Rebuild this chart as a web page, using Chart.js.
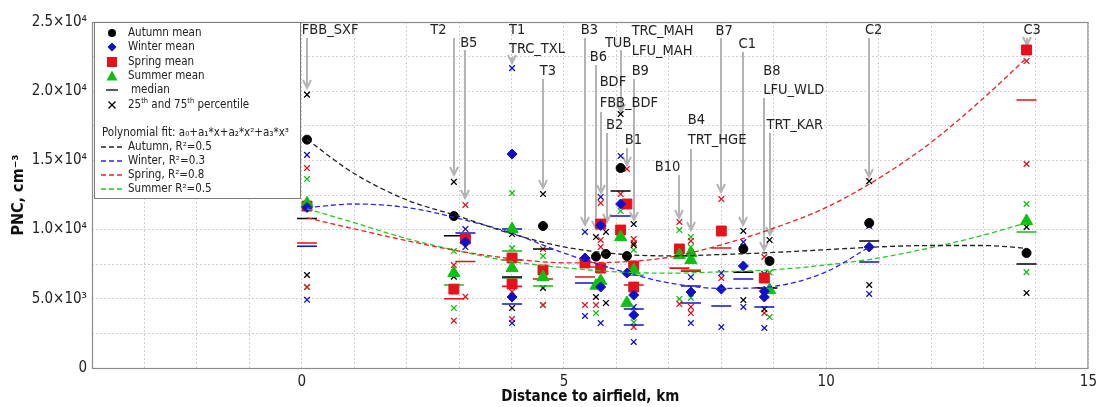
<!DOCTYPE html>
<html>
<head>
<meta charset="utf-8">
<script src="https://cdn.jsdelivr.net/npm/chart.js@4/dist/chart.umd.min.js"></script>
<style>
  html, body { margin: 0; padding: 0; background: #fff; }
  #wrap { width: 1102px; height: 407px; }
</style>
</head>
<body>
<div id="wrap"><canvas id="pnc" width="1102" height="407"></canvas></div>
<script>
var FONT = '"DejaVu Sans Condensed", "Open Sans", sans-serif';

// axis ticks
var yTickValues = [0, 5000, 10000, 15000, 20000, 25000];
var yTickLabels = ['0', '5.0×10³', '1.0×10⁴', '1.5×10⁴', '2.0×10⁴', '2.5×10⁴'];
var xTickValues = [0, 5, 10, 15];
var xTickLabels = ['0', '5', '10', '15'];

// seasonal means [distance km, PNC cm-3]
var autumnMean = [[0.1, 16500], [2.9, 10980], [4.6, 10260], [5.61, 8050], [5.8, 8240], [6.08, 14450],
  [6.2, 8090], [8.42, 8600], [8.92, 7730], [10.82, 10480], [13.82, 8310]];
var winterMean = [[0.1, 11600], [3.12, 9100], [4.01, 15460], [4.01, 5130], [5.4, 7950], [5.7, 10300],
  [5.7, 5850], [6.08, 11850], [6.2, 6860], [6.33, 5270], [6.33, 3830], [7.42, 5490], [8.0, 5700],
  [8.42, 7370], [8.82, 5130], [8.82, 5550], [10.82, 8740]];
var springMean = [[0.1, 11700], [2.9, 5700], [3.12, 9320], [4.01, 7950], [4.01, 6070], [4.6, 7080],
  [5.4, 7590], [5.7, 10400], [5.7, 7220], [6.08, 9970], [6.2, 11850], [6.33, 7370], [6.33, 5850],
  [7.2, 8600], [8.0, 9900], [8.82, 6500], [13.82, 22980]];
var summerMean = [[0.1, 11900], [2.9, 6860], [4.01, 10040], [4.01, 7220], [4.6, 6570], [5.61, 5950],
  [5.7, 6300], [6.08, 9460], [6.33, 7080], [6.2, 4700], [7.2, 8160], [7.42, 8310], [7.42, 7800],
  [8.92, 5640], [13.82, 10620]];

// medians
var autumnMedian = [[0.1, 10800], [2.9, 9560], [4.01, 6570], [4.6, 8600], [6.08, 12790], [8.42, 6930],
  [8.88, 5780], [10.82, 9180], [13.82, 7510]];
var winterMedian = [[0.1, 8800], [3.12, 9750], [4.01, 10040], [4.01, 4620], [5.4, 6140], [6.08, 10980],
  [6.33, 4260], [6.33, 3110], [7.42, 5920], [7.42, 4700], [8.0, 4480], [8.42, 6430], [8.82, 4410],
  [10.82, 7660]];
var springMedian = [[0.1, 9030], [2.9, 5000], [3.12, 7700], [4.01, 7800], [4.01, 5900], [4.6, 6430],
  [5.4, 6570], [5.65, 7300], [6.33, 6000], [7.2, 7220], [7.42, 7000], [8.0, 8670], [8.82, 5800],
  [13.82, 19360]];
var summerMedian = [[2.9, 6000], [4.01, 8450], [4.01, 6500], [4.6, 5920], [6.33, 6700], [7.42, 7080],
  [13.82, 9830]];

// 25th and 75th percentiles
var autumnPct = [[0.1, 19750], [0.1, 6720], [2.9, 13450], [2.9, 6600], [4.01, 9680], [4.01, 4330],
  [4.6, 12570], [4.6, 5780], [5.61, 9460], [5.61, 5130], [5.8, 9830], [5.8, 4700], [6.08, 18350],
  [6.33, 10400], [6.33, 8890], [8.42, 9900], [8.42, 4910], [8.92, 9250], [8.82, 4260],
  [10.82, 13500], [10.82, 6000], [13.82, 10190], [13.82, 5420]];
var winterPct = [[0.1, 15400], [0.1, 4930], [3.12, 10040], [3.12, 8740], [4.01, 21670], [4.01, 3250],
  [4.01, 6140], [5.4, 9830], [5.4, 3760], [5.7, 12360], [5.7, 3250], [6.08, 15320], [6.33, 1880],
  [6.33, 4400], [7.42, 6570], [7.42, 3250], [8.0, 6860], [8.0, 2960], [8.42, 9100], [8.42, 4410],
  [8.82, 6800], [8.82, 2890], [10.82, 10260], [10.82, 5350]];
var springPct = [[0.1, 14450], [0.1, 5850], [2.9, 7440], [2.9, 3420], [3.12, 11780], [3.12, 5150],
  [4.01, 3540], [4.01, 5500], [4.6, 8600], [4.6, 4550], [5.4, 4550], [5.61, 4550], [5.7, 11920],
  [5.7, 8740], [5.7, 9250], [6.2, 14380], [6.08, 12570], [6.33, 9320], [6.33, 9030], [6.33, 2960],
  [7.2, 10550], [7.2, 4620], [7.42, 9180], [7.42, 4410], [7.42, 3970], [8.0, 12210], [8.0, 6500],
  [8.82, 8020], [8.82, 3970], [13.82, 22180], [13.82, 14740]];
var summerPct = [[0.1, 13650], [0.1, 5850], [2.9, 8450], [2.9, 4330], [4.01, 12640], [4.01, 8670],
  [4.6, 8090], [4.6, 4550], [5.61, 3970], [6.08, 11340], [6.33, 8530], [6.33, 3300], [7.2, 9970],
  [7.2, 4990], [7.42, 9460], [7.42, 8740], [7.42, 5060], [8.92, 3680], [8.92, 6900],
  [13.82, 11850], [13.82, 6930]];

// polynomial fit curves
var autumnFit = [[0.1, 16500], [1, 14050], [2, 12150], [3, 10950], [4, 9700], [5, 8750], [6, 8250],
  [7, 8100], [8, 8200], [9, 8350], [10, 8550], [11, 8750], [12, 8850], [13, 8850], [13.82, 8650]];
var winterFit = [[0.1, 11600], [1, 11850], [2, 11600], [3, 10800], [4, 9750], [5, 8300], [6, 7100],
  [7, 6150], [8, 5750], [9, 5900], [10, 6950], [10.82, 8740]];
var springFit = [[0.1, 10850], [1, 10050], [2, 9200], [3, 8450], [4, 7900], [5, 7600], [6, 7650],
  [7, 8000], [8, 8900], [9, 10100], [10, 11600], [11, 13700], [12, 16300], [13, 19500], [13.82, 22400]];
var summerFit = [[0.1, 11500], [1, 10500], [2, 9350], [3, 8450], [4, 7700], [5, 7250], [6, 6950],
  [7, 6850], [8, 6950], [9, 7100], [10, 7450], [11, 7950], [12, 8700], [13, 9600], [13.82, 10500]];

// station names (left edge km, centre PNC)
var labelText = ['FBB_SXF', 'T2', 'B5', 'T1', 'TRC_TXL', 'T3', 'B3', 'B6', 'TUB', 'BDF', 'FBB_BDF', 'B2',
  'TRC_MAH', 'LFU_MAH', 'B9', 'B1', 'B10', 'B4', 'TRT_HGE', 'B7', 'C1', 'B8', 'LFU_WLD', 'TRT_KAR', 'C2', 'C3'];
var labelKm = [0.0, 2.45, 3.02, 3.95, 3.95, 4.54, 5.32, 5.49, 5.78, 5.68, 5.68, 5.8,
  6.29, 6.29, 6.29, 6.16, 6.73, 7.36, 7.36, 7.89, 8.33, 8.8, 8.8, 8.86, 10.74, 13.76];
var labelPnc = [24420, 24420, 23480, 24420, 23050, 21460, 24420, 22470, 23480, 20660, 19150, 17560,
  24350, 22900, 21460, 16470, 14520, 17920, 16470, 24350, 23410, 21460, 20090, 17560, 24420, 24420];

// arrows from the names down to the stations
var arrowKm = [0.1, 2.9, 3.12, 4.01, 4.6, 5.4, 5.61, 5.7, 5.82, 6.08, 6.33, 6.2, 7.2, 7.42, 8.0, 8.42, 8.82, 8.92, 10.82, 13.82];
var arrowFrom = [23840, 23840, 22980, 22470, 20880, 23840, 21890, 18500, 16980, 22980, 20880, 15900, 13940, 15820, 23840, 22830, 19510, 16980, 23840, 23840];
var arrowTo = [20230, 13940, 12280, 22040, 13000, 10330, 10040, 12640, 10550, 18500, 10690, 14670, 10840, 9970, 12720, 10330, 8530, 9610, 13800, 23340];

var BLACK = '#000000', BLUE = '#1010c8', RED = '#e8101a', GREEN = '#10c010';

function pts(arr) {
  return arr.map(function(p) { return { x: p[0], y: p[1] }; });
}

function fitSet(label, data, color) {
  return {
    label: label, data: pts(data), showLine: true, pointRadius: 0,
    borderColor: color, borderWidth: 1.3, borderDash: [5, 3],
    cubicInterpolationMode: 'monotone', fill: false, order: 1
  };
}
function markSet(label, data, color, style, r, order) {
  return {
    label: label, data: pts(data), showLine: false, pointStyle: style, pointRadius: r,
    backgroundColor: color, borderColor: color, borderWidth: 1, order: order
  };
}
function crossSet(label, data, color) {
  return {
    label: label, data: pts(data), showLine: false, pointStyle: 'crossRot', pointRadius: 4,
    borderColor: color, backgroundColor: color, borderWidth: 1.3, order: 5
  };
}
function medianSet(label, data, color) {
  return {
    label: label, data: pts(data), showLine: false, pointStyle: 'line', pointRadius: 10,
    borderColor: color, backgroundColor: color, borderWidth: 1.6, order: 4
  };
}

// little marker drawer for the legend
function mark(ctx, style, x, y, color, r) {
  ctx.save();
  ctx.fillStyle = color; ctx.strokeStyle = color; ctx.lineWidth = 1.3;
  ctx.beginPath();
  if (style === 'circle') {
    ctx.arc(x, y, r, 0, Math.PI * 2); ctx.fill();
  } else if (style === 'diamond') {
    ctx.moveTo(x, y - r); ctx.lineTo(x + r, y); ctx.lineTo(x, y + r); ctx.lineTo(x - r, y); ctx.closePath(); ctx.fill();
  } else if (style === 'square') {
    ctx.rect(x - r, y - r, 2 * r, 2 * r); ctx.fill();
  } else if (style === 'triangle') {
    ctx.moveTo(x, y - r); ctx.lineTo(x + r, y + r * 0.8); ctx.lineTo(x - r, y + r * 0.8); ctx.closePath(); ctx.fill();
  } else if (style === 'cross') {
    ctx.moveTo(x - r, y - r); ctx.lineTo(x + r, y + r); ctx.moveTo(x + r, y - r); ctx.lineTo(x - r, y + r); ctx.stroke();
  } else if (style === 'dash') {
    ctx.moveTo(x - r, y); ctx.lineTo(x + r, y); ctx.stroke();
  }
  ctx.restore();
}

var annotations = {
  id: 'annotations',
  beforeDatasetsDraw: function(chart) {
    var ctx = chart.ctx, xs = chart.scales.x, ys = chart.scales.y;
    ctx.save();
    ctx.strokeStyle = '#b4b4b4'; ctx.lineWidth = 2;
    for (var i = 0; i < arrowKm.length; i++) {
      var x = Math.round(xs.getPixelForValue(arrowKm[i]));
      var y0 = ys.getPixelForValue(arrowFrom[i]), y1 = ys.getPixelForValue(arrowTo[i]);
      ctx.beginPath();
      ctx.moveTo(x, y0); ctx.lineTo(x, y1 - 1);
      ctx.stroke();
      ctx.beginPath();
      ctx.moveTo(x - 4, y1 - 8); ctx.lineTo(x, y1); ctx.lineTo(x + 4, y1 - 8);
      ctx.stroke();
    }
    ctx.fillStyle = '#222';
    ctx.font = '14.5px ' + FONT;
    ctx.textBaseline = 'middle';
    ctx.textAlign = 'left';
    for (var j = 0; j < labelText.length; j++) {
      ctx.fillText(labelText[j], xs.getPixelForValue(labelKm[j]), ys.getPixelForValue(labelPnc[j]));
    }
    ctx.restore();
  },
  afterDraw: function(chart) {
    var ctx = chart.ctx, a = chart.chartArea;
    ctx.save();
    // frame
    ctx.strokeStyle = '#8c8c8c'; ctx.lineWidth = 1.2;
    ctx.strokeRect(a.left + 0.5, a.top + 0.5, a.right - a.left - 1, a.bottom - a.top);

    // legend box
    var L = a.left + 2, T = a.top, W = 206, H = 176;
    ctx.fillStyle = '#fff';
    ctx.fillRect(L, T, W, H);
    ctx.strokeStyle = '#7a7a7a'; ctx.lineWidth = 1;
    ctx.strokeRect(L + 0.5, T + 0.5, W, H);

    ctx.fillStyle = '#222';
    ctx.font = '11.5px ' + FONT;
    ctx.textBaseline = 'middle';
    var mx = L + 18, tx = L + 34;
    mark(ctx, 'circle', mx, T + 11, BLACK, 4);
    ctx.fillText('Autumn mean', tx, T + 11);
    mark(ctx, 'diamond', mx, T + 25, BLUE, 4.5);
    ctx.fillText('Winter mean', tx, T + 25);
    mark(ctx, 'square', mx, T + 40, RED, 5);
    ctx.fillText('Spring mean', tx, T + 40);
    mark(ctx, 'triangle', mx, T + 54, GREEN, 5.5);
    ctx.fillText('Summer mean', tx, T + 54);
    mark(ctx, 'dash', mx, T + 68, BLACK, 6);
    ctx.fillText('median', tx + 3, T + 68);
    mark(ctx, 'cross', mx, T + 83, BLACK, 3.5);
    var cx = tx, cy = T + 83;
    var runs = [['25', 0], ['th', 1], [' and 75', 0], ['th', 1], [' percentile', 0]];
    runs.forEach(function(r) {
      if (r[1]) {
        ctx.font = '7.5px ' + FONT;
        ctx.fillText(r[0], cx, cy - 4);
      } else {
        ctx.font = '11.5px ' + FONT;
        ctx.fillText(r[0], cx, cy);
      }
      cx += ctx.measureText(r[0]).width;
    });
    ctx.font = '11.5px ' + FONT;
    ctx.fillText('Polynomial fit: a₀+a₁*x+a₂*x²+a₃*x³', L + 8, T + 111);
    var fits = [['Autumn, R²=0.5', '#222'], ['Winter, R²=0.3', '#2828e0'], ['Spring, R²=0.8', '#ee2020'], ['Summer R²=0.5', '#22cc22']];
    fits.forEach(function(f, k) {
      var y = T + 125 + k * 14;
      ctx.save();
      ctx.strokeStyle = f[1]; ctx.lineWidth = 1.3; ctx.setLineDash([5, 3]);
      ctx.beginPath(); ctx.moveTo(L + 7, y); ctx.lineTo(L + 30, y); ctx.stroke();
      ctx.restore();
      ctx.fillText(f[0], tx, y);
    });
    ctx.restore();
  }
};

new Chart(document.getElementById('pnc'), {
  type: 'scatter',
  data: {
    datasets: [
      fitSet('Autumn fit', autumnFit, '#222222'),
      fitSet('Winter fit', winterFit, '#2828e0'),
      fitSet('Spring fit', springFit, '#ee2020'),
      fitSet('Summer fit', summerFit, '#22cc22'),
      markSet('Autumn mean', autumnMean, BLACK, 'circle', 4.5, 2),
      markSet('Winter mean', winterMean, BLUE, 'rectRot', 5, 2),
      markSet('Spring mean', springMean, RED, 'rect', 7, 3),
      markSet('Summer mean', summerMean, GREEN, 'triangle', 7, 2),
      medianSet('Autumn median', autumnMedian, BLACK),
      medianSet('Winter median', winterMedian, BLUE),
      medianSet('Spring median', springMedian, RED),
      medianSet('Summer median', summerMedian, GREEN),
      crossSet('Autumn percentiles', autumnPct, BLACK),
      crossSet('Winter percentiles', winterPct, BLUE),
      crossSet('Spring percentiles', springPct, RED),
      crossSet('Summer percentiles', summerPct, GREEN)
    ]
  },
  options: {
    responsive: false,
    animation: false,
    layout: { padding: { top: 22, right: 9, left: 0, bottom: 0 } },
    plugins: { legend: { display: false }, tooltip: { enabled: false } },
    scales: {
      x: {
        type: 'linear', min: -4, max: 15,
        ticks: {
          stepSize: 1, autoSkip: false, maxRotation: 0, padding: 5, color: '#222',
          font: { family: FONT, size: 15 },
          callback: function(v) { var i = xTickValues.indexOf(v); return i >= 0 ? xTickLabels[i] : ''; }
        },
        grid: { color: '#d2d2d2', drawTicks: false, lineWidth: 1 },
        border: { display: false, dash: [2, 2] },
        title: {
          display: true, text: 'Distance to airfield, km', color: '#111',
          font: { family: FONT, size: 15, weight: 'bold' }, padding: { top: 0, bottom: 1 }
        },
        afterFit: function(s) { s.height = 39; }
      },
      y: {
        min: 0, max: 25000,
        ticks: {
          stepSize: 2500, autoSkip: false, padding: 5, color: '#222',
          font: { family: FONT, size: 15 },
          callback: function(v) { var i = yTickValues.indexOf(v); return i >= 0 ? yTickLabels[i] : ''; }
        },
        grid: { color: '#d2d2d2', drawTicks: false, lineWidth: 1 },
        border: { display: false, dash: [2, 2] },
        title: {
          display: true, text: 'PNC, cm⁻³', color: '#111',
          font: { family: FONT, size: 16, weight: 'bold' }, padding: { top: 9, bottom: 0 }
        },
        afterFit: function(s) { s.width = 92; }
      }
    }
  },
  plugins: [annotations]
});
</script>
</body>
</html>
